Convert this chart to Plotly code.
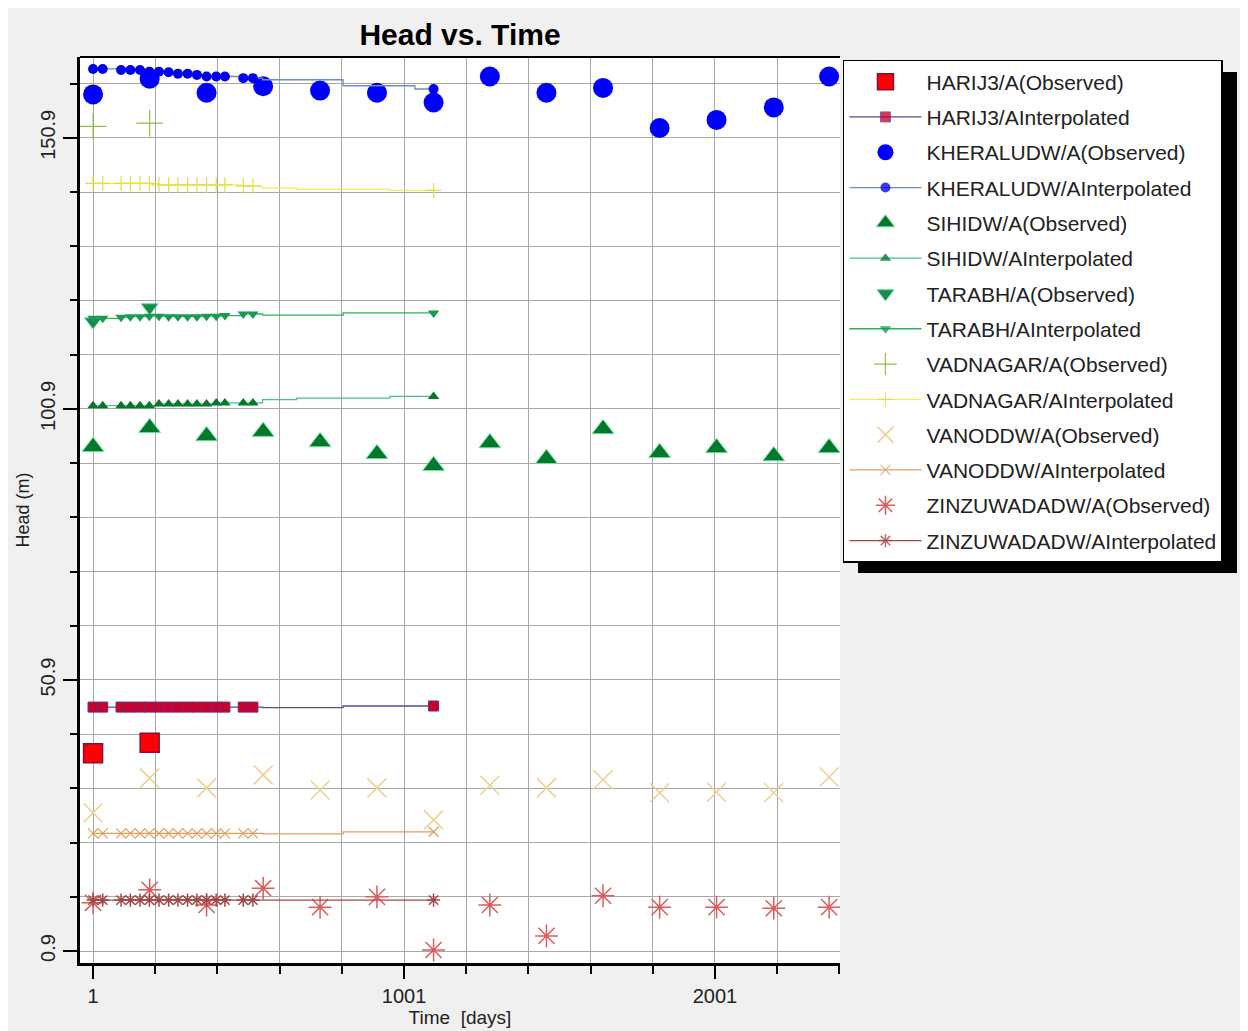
import plotly.graph_objects as go

# ---------------- data ----------------
OBS_DAYS = [1, 183, 366, 548, 731, 914, 1096, 1277, 1459, 1641, 1823, 2006, 2190, 2368]
OBS_DAYS_SHORT = [1, 183]
INTERP_DAYS = [1, 32, 91, 121, 152, 182, 213, 244, 274, 305, 335, 366, 397, 425,
               484, 515, 546, 656, 805, 956, 1036, 1096]
MARKED_UNTIL = 515  # interpolated markers are drawn up to this day and at the last day

HARIJ3_OBS = [37.4, 39.3]
HARIJ3_INT = [45.9] * 16 + [45.8, 45.8, 46.1, 46.1, 46.1, 46.1]

KHERALUDW_OBS = [158.9, 161.8, 159.2, 160.4, 159.6, 159.2, 157.4, 162.2, 159.2, 160.1,
                 152.7, 154.2, 156.5, 162.2]
KHERALUDW_INT = [163.6, 163.6, 163.4, 163.4, 163.4, 163.1, 163.1, 163.0, 162.7, 162.7,
                 162.5, 162.2, 162.2, 162.2, 161.9, 161.9, 161.6, 161.6, 160.5, 160.5,
                 159.9, 159.9]

SIHIDW_OBS = [93.9, 97.4, 95.9, 96.7, 94.8, 92.6, 90.4, 94.6, 91.7, 97.2, 92.8, 93.7,
              92.2, 93.7]
SIHIDW_INT = [101.5] * 6 + [101.8] * 6 + [102.0] * 4 + [102.6, 102.9, 102.9, 103.2, 103.2, 103.2]

TARABH_OBS = [117.0, 119.6]
TARABH_INT = [117.6, 117.6, 117.8, 117.9, 117.9, 118.0, 118.0, 117.9, 117.9, 117.9,
              117.9, 118.0, 118.0, 118.1, 118.4, 118.4, 118.2, 118.2, 118.6, 118.6,
              118.6, 118.6]

VADNAGAR_OBS = [153.0, 153.6]
VADNAGAR_INT = [142.5] * 6 + [142.2] * 8 + [142.0] * 2 + [141.6, 141.4, 141.4, 141.2, 141.2, 141.2]

VANODDW_OBS = [26.4, 32.8, 31.0, 33.4, 30.6, 31.0, 25.1, 31.5, 31.0, 32.5, 30.1, 30.2,
               30.1, 33.0]
VANODDW_INT = [22.6] * 16 + [22.5, 22.5, 22.9, 22.9, 22.9, 22.9]

ZINZ_OBS = [9.8, 12.2, 9.4, 12.5, 9.0, 10.9, 1.1, 9.4, 3.7, 11.1, 9.0, 9.0, 8.8, 9.0]
ZINZ_INT = [10.3] * 22

X_TICKS = [1, 1001, 2001]
X_MINOR_TICKS = list(range(1, 2402, 200))
Y_TICKS = [0.9, 50.9, 100.9, 150.9]
Y_MINOR_TICKS = [round(0.9 + 10 * k, 1) for k in range(17)]

FONT = "Liberation Sans, Arial, sans-serif"

fig = go.Figure()


def int_opacity():
    return [1 if (d <= MARKED_UNTIL or i == len(INTERP_DAYS) - 1) else 0
            for i, d in enumerate(INTERP_DAYS)]


def add_obs(name, days, vals, symbol, color, size, lcolor=None, lwidth=0):
    fig.add_trace(go.Scatter(
        x=days, y=vals, mode="markers", name=name, legendgroup=name,
        marker=dict(symbol=symbol, color=color, size=size,
                    line=dict(color=lcolor or color, width=lwidth))))


def add_int(name, vals, symbol, mcolor, linecolor, size, mlcolor=None, mlwidth=0):
    fig.add_trace(go.Scatter(
        x=INTERP_DAYS, y=vals, mode="lines+markers", name=name, legendgroup=name,
        line=dict(color=linecolor, width=1.3, shape="hv"),
        marker=dict(symbol=symbol, color=mcolor, size=size, opacity=int_opacity(),
                    line=dict(color=mlcolor or mcolor, width=mlwidth))))


add_obs("HARIJ3/A(Observed)", OBS_DAYS_SHORT, HARIJ3_OBS, "square", "#ff0000", 19, "#801040", 1.5)
add_int("HARIJ3/AInterpolated", HARIJ3_INT, "square", "#c8002c", "#50508a", 10, "#6a2a80", 1)
add_obs("KHERALUDW/A(Observed)", OBS_DAYS, KHERALUDW_OBS, "circle", "#0000ff", 20)
add_int("KHERALUDW/AInterpolated", KHERALUDW_INT, "circle", "#0000ee", "#6a8fc0", 10)
add_obs("SIHIDW/A(Observed)", OBS_DAYS, SIHIDW_OBS, "triangle-up", "#007a2a", 19, "#70e0a0", 1)
add_int("SIHIDW/AInterpolated", SIHIDW_INT, "triangle-up", "#007a2a", "#40c0a0", 10)
add_obs("TARABH/A(Observed)", OBS_DAYS_SHORT, TARABH_OBS, "triangle-down", "#1a8a50", 15, "#70e0a0", 1)
add_int("TARABH/AInterpolated", TARABH_INT, "triangle-down", "#1a9a50", "#30b060", 10)
add_obs("VADNAGAR/A(Observed)", OBS_DAYS_SHORT, VADNAGAR_OBS, "cross-thin", "#90c040", 19, "#90c040", 1.2)
add_int("VADNAGAR/AInterpolated", VADNAGAR_INT, "cross-thin", "#e8e850", "#f0f050", 11, "#e0e040", 1.2)
add_obs("VANODDW/A(Observed)", OBS_DAYS, VANODDW_OBS, "x-thin", "#f2d49a", 19, "#f0d090", 1.5)
add_int("VANODDW/AInterpolated", VANODDW_INT, "x-thin", "#e0a060", "#e0a060", 10, "#e0a060", 1.2)
add_obs("ZINZUWADADW/A(Observed)", OBS_DAYS, ZINZ_OBS, "asterisk", "#e05a5a", 19, "#e05a5a", 1.5)
add_int("ZINZUWADADW/AInterpolated", ZINZ_INT, "asterisk", "#a04848", "#a04848", 11, "#a04848", 1.5)

grid = "#a8a8a8"
fig.update_xaxes(
    range=[-41, 2403], tickmode="array", tickvals=X_TICKS, automargin=False,
    showline=True, linecolor="black", linewidth=3, ticks="outside", ticklen=13,
    tickwidth=2, tickcolor="black", showgrid=True, gridcolor=grid, gridwidth=1,
    zeroline=False, tickfont=dict(size=20, color="#222"),
    minor=dict(tickmode="array", tickvals=X_MINOR_TICKS, ticks="outside", ticklen=8,
               tickwidth=2, tickcolor="black", showgrid=True, gridcolor=grid, gridwidth=1),
    title=dict(text="Time  [days]", font=dict(size=19, color="#222"), standoff=4),
)
fig.update_yaxes(
    range=[-1.3, 165.8], tickmode="array", tickvals=Y_TICKS, automargin=False,
    showline=True, linecolor="black", linewidth=3, ticks="outside", ticklen=14,
    tickwidth=2, tickcolor="black", showgrid=True, gridcolor=grid, gridwidth=1,
    zeroline=False, tickangle=-90, tickfont=dict(size=20, color="#222"),
    minor=dict(tickmode="array", tickvals=Y_MINOR_TICKS, ticks="outside", ticklen=7,
               tickwidth=2, tickcolor="black", showgrid=True, gridcolor=grid, gridwidth=1),
    title=dict(text="Head (m)", font=dict(size=18, color="#222"), standoff=3),
)

# top border of plot and legend shadow
fig.add_shape(type="line", xref="paper", yref="paper", x0=0, x1=1, y0=1, y1=1,
              line=dict(color="black", width=2))
fig.add_shape(type="rect", xref="paper", yref="paper", x0=1.0237, x1=1.5224,
              y0=0.4305, y1=0.9834, fillcolor="black", line=dict(width=0), layer="above")

fig.update_layout(
    width=1240, height=1023,
    margin=dict(l=72, r=408, t=49, b=68, autoexpand=False),
    paper_bgcolor="#f0f0f0", plot_bgcolor="white",
    font=dict(family=FONT, color="#222"),
    title=dict(text="<b>Head vs. Time</b>", x=0.5, xref="paper", y=0.974, yanchor="middle",
               font=dict(size=30, color="black")),
    legend=dict(x=1.0039, y=0.9967, xanchor="left", yanchor="top",
                bgcolor="white", bordercolor="black", borderwidth=1.5,
                font=dict(size=21, color="#222"), traceorder="grouped",
                tracegroupgap=5, itemsizing="trace", itemwidth=72),
    showlegend=True,
)

fig.write_html("out.html")
